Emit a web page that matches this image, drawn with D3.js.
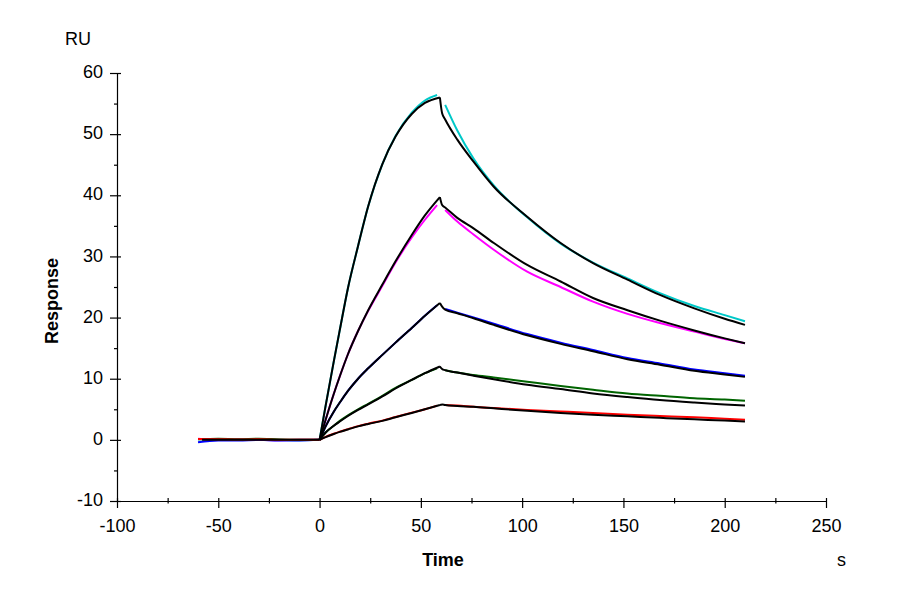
<!DOCTYPE html>
<html>
<head>
<meta charset="utf-8">
<script src="https://cdn.jsdelivr.net/npm/d3@7"></script>
<style>
  body { margin: 0; background: #fff; }
  text { font-family: "Liberation Sans", Arial, sans-serif; }
</style>
</head>
<body>
<script>
const width = 900;
const height = 600;

// time points (s)
const baseTime = [-60, -50, -40, -30, -20, -10, 0];
const fitBaseTime = [-58, -50, -40, -30, -20, -10, 0];
const assocTime = [0, 3, 7, 10, 14, 19, 24, 31, 37.5, 45.5, 52, 59.4];
const dataAssocTime = [0, 3, 7, 10, 14, 19, 24, 31, 37.5, 45.5, 52, 58];
const dissocTime = [59.4, 60.5, 62, 68, 76, 86, 102.5, 119, 135, 152, 168, 185, 200, 210];
const dataDissocTime = [62, 68, 76, 86, 102.5, 119, 135, 152, 168, 185, 200, 210];

// fitted curves (black), one per concentration, high to low
const fitBase = [0, 0, 0, 0, 0, 0, 0];
const fitAssoc1 = [0, 5.6, 12.8, 18.0, 24.8, 31.7, 38.2, 45.1, 49.6, 53.3, 55.1, 56.0];
const fitDissoc1 = [56.0, 53.4, 52.4, 49.1, 45.5, 41.4, 36.5, 32.2, 28.9, 26.2, 23.7, 21.5, 19.8, 18.8];
const fitAssoc2 = [0, 3.3, 7.5, 10.4, 14.0, 17.8, 21.2, 25.4, 29.2, 33.5, 36.7, 39.7];
const fitDissoc2 = [39.7, 38.4, 38.0, 36.3, 34.6, 32.2, 28.6, 25.9, 23.2, 21.2, 19.5, 17.9, 16.6, 15.8];
const fitAssoc3 = [0, 2.2, 4.6, 6.1, 8.0, 10.0, 11.7, 13.9, 15.9, 18.3, 20.3, 22.4];
const fitDissoc3 = [22.4, 21.8, 21.3, 20.7, 19.9, 18.8, 17.1, 15.7, 14.5, 13.2, 12.3, 11.3, 10.7, 10.3];
const fitAssoc4 = [0, 1.2, 2.3, 3.0, 3.9, 4.9, 5.8, 7.1, 8.4, 9.8, 10.9, 12.0];
const fitDissoc4 = [12.0, 11.6, 11.4, 11.0, 10.5, 9.9, 9.0, 8.3, 7.6, 7.0, 6.5, 6.1, 5.8, 5.6];
const fitAssoc5 = [0, 0.45, 0.95, 1.3, 1.7, 2.2, 2.6, 3.1, 3.7, 4.4, 5.0, 5.7];
const fitDissoc5 = [5.7, 5.8, 5.7, 5.55, 5.4, 5.15, 4.75, 4.4, 4.1, 3.85, 3.6, 3.35, 3.15, 3.0];

// measured curves (coloured)
const dataBase1 = [0.1, 0.05, 0, 0.05, 0, -0.05, 0];
const dataBase2 = [0.2, 0, 0.05, 0, -0.05, 0, 0];
const dataBase3 = [-0.4, -0.1, -0.1, 0, -0.1, -0.1, 0];
const dataBase4 = [0.1, 0.2, 0.1, 0.2, 0.05, 0, 0];
const dataBase5 = [0.15, 0.1, 0.05, 0.1, 0, 0, 0];
const dataAssoc1 = [0, 5.6, 12.8, 18.0, 24.8, 31.7, 38.2, 45.1, 49.7, 53.5, 55.5, 56.4];
const dataDissoc1 = [54.8, 50.6, 46.0, 41.6, 36.4, 32.1, 29.0, 26.4, 24.0, 21.9, 20.4, 19.4];
const dataAssoc2 = [0, 3.3, 7.5, 10.4, 14.0, 17.8, 21.1, 25.2, 29.0, 33.1, 36.0, 38.4];
const dataDissoc2 = [37.6, 35.7, 33.6, 31.1, 27.5, 25.0, 22.6, 20.6, 19.1, 17.7, 16.5, 15.8];
const dataAssoc3 = [0, 2.2, 4.6, 6.1, 8.0, 10.0, 11.7, 13.9, 15.9, 18.3, 20.3, 22.0];
const dataDissoc3 = [21.4, 20.8, 20.0, 19.0, 17.3, 15.9, 14.7, 13.4, 12.5, 11.5, 10.9, 10.5];
const dataAssoc4 = [0, 1.2, 2.3, 3.1, 4.0, 5.0, 5.9, 7.2, 8.5, 9.8, 10.9, 11.7];
const dataDissoc4 = [11.4, 11.0, 10.6, 10.2, 9.5, 8.8, 8.2, 7.6, 7.2, 6.8, 6.6, 6.4];
const dataAssoc5 = [0, 0.5, 1.0, 1.35, 1.75, 2.25, 2.65, 3.15, 3.75, 4.45, 5.0, 5.6];
const dataDissoc5 = [5.7, 5.6, 5.4, 5.2, 4.9, 4.65, 4.4, 4.1, 3.9, 3.7, 3.45, 3.3];

const colors = ["rgb(0,200,200)", "rgb(255,0,255)", "rgb(0,0,255)", "rgb(0,100,0)", "rgb(255,0,0)"];

const xTicks = [-100, -50, 0, 50, 100, 150, 200, 250];
const xMinor = [-75, -25, 25, 75, 125, 175, 225];
const yTicks = [-10, 0, 10, 20, 30, 40, 50, 60];
const yMinor = [-5, 5, 15, 25, 35, 45, 55];

const svg = d3.select("body")
  .append("svg")
  .attr("width", width)
  .attr("height", height)
  .style("background-color", "#fff");

const x = d3.scaleLinear().domain([-100, 250]).range([117, 826]);
const y = d3.scaleLinear().domain([-10, 60]).range([501, 73]);
const plain = d => String(d);

// axes
const yAxis = svg.append("g")
  .attr("transform", `translate(${x(-100)},0)`)
  .call(d3.axisLeft(y).tickValues(yTicks).tickFormat(plain).tickSize(7).tickSizeOuter(0).tickPadding(7));
yAxis.selectAll(".tick line").attr("x1", 4);
yAxis.selectAll(".tick text").attr("dy", "0.26em");

svg.append("g")
  .attr("transform", `translate(${x(-100)},0)`)
  .call(d3.axisLeft(y).tickValues(yMinor).tickSize(3).tickFormat(""))
  .select(".domain").remove();

const xAxis = svg.append("g")
  .attr("transform", `translate(0,${y(-10)})`)
  .call(d3.axisBottom(x).tickValues(xTicks).tickFormat(plain).tickSize(7).tickSizeOuter(0).tickPadding(11));
xAxis.selectAll(".tick line").attr("y1", -3);

const xm = svg.append("g")
  .attr("transform", `translate(0,${y(-10)})`)
  .call(d3.axisBottom(x).tickValues(xMinor).tickSize(2.5).tickFormat(""));
xm.select(".domain").remove();
xm.selectAll(".tick line").attr("y1", -3);

svg.selectAll(".domain, .tick line").attr("stroke", "#000").attr("stroke-width", 1.2);
svg.selectAll(".tick text")
  .attr("fill", "#000")
  .style("font-size", "18px")
  .style("font-family", "'Liberation Sans', Arial, sans-serif");

// curves
const line = d3.line()
  .x(d => x(d[0]))
  .y(d => y(d[1]))
  .curve(d3.curveMonotoneX);

const pairs = (ts, vs) => ts.map((t, i) => [t, vs[i]]);

const dataSets = [
  [dataBase1, dataAssoc1, dataDissoc1],
  [dataBase2, dataAssoc2, dataDissoc2],
  [dataBase3, dataAssoc3, dataDissoc3],
  [dataBase4, dataAssoc4, dataDissoc4],
  [dataBase5, dataAssoc5, dataDissoc5]
];
const fitSets = [
  [fitAssoc1, fitDissoc1],
  [fitAssoc2, fitDissoc2],
  [fitAssoc3, fitDissoc3],
  [fitAssoc4, fitDissoc4],
  [fitAssoc5, fitDissoc5]
];

const dataG = svg.append("g").attr("fill", "none").attr("stroke-width", 2);
dataSets.forEach((s, i) => {
  dataG.append("path").attr("stroke", colors[i]).attr("d", line(pairs(baseTime, s[0])));
  dataG.append("path").attr("stroke", colors[i]).attr("d", line(pairs(dataAssocTime, s[1])));
  dataG.append("path").attr("stroke", colors[i]).attr("d", line(pairs(dataDissocTime, s[2])));
});

const fitG = svg.append("g").attr("fill", "none").attr("stroke", "#000").attr("stroke-width", 2);
fitG.append("path").attr("d", line(pairs(fitBaseTime, fitBase)));
fitSets.forEach(s => {
  fitG.append("path").attr("d", line(pairs(assocTime, s[0])));
  fitG.append("path").attr("d", line(pairs(dissocTime, s[1])));
});

// labels
svg.append("text").attr("x", 65).attr("y", 45).style("font-size", "18px").text("RU");
svg.append("text").attr("x", 837).attr("y", 566).style("font-size", "18px").text("s");
svg.append("text")
  .attr("x", 443).attr("y", 566)
  .attr("text-anchor", "middle")
  .style("font-size", "18px").style("font-weight", "bold")
  .text("Time");
svg.append("text")
  .attr("transform", "translate(58,301) rotate(-90)")
  .attr("text-anchor", "middle")
  .style("font-size", "18px").style("font-weight", "bold")
  .text("Response");
</script>
</body>
</html>
